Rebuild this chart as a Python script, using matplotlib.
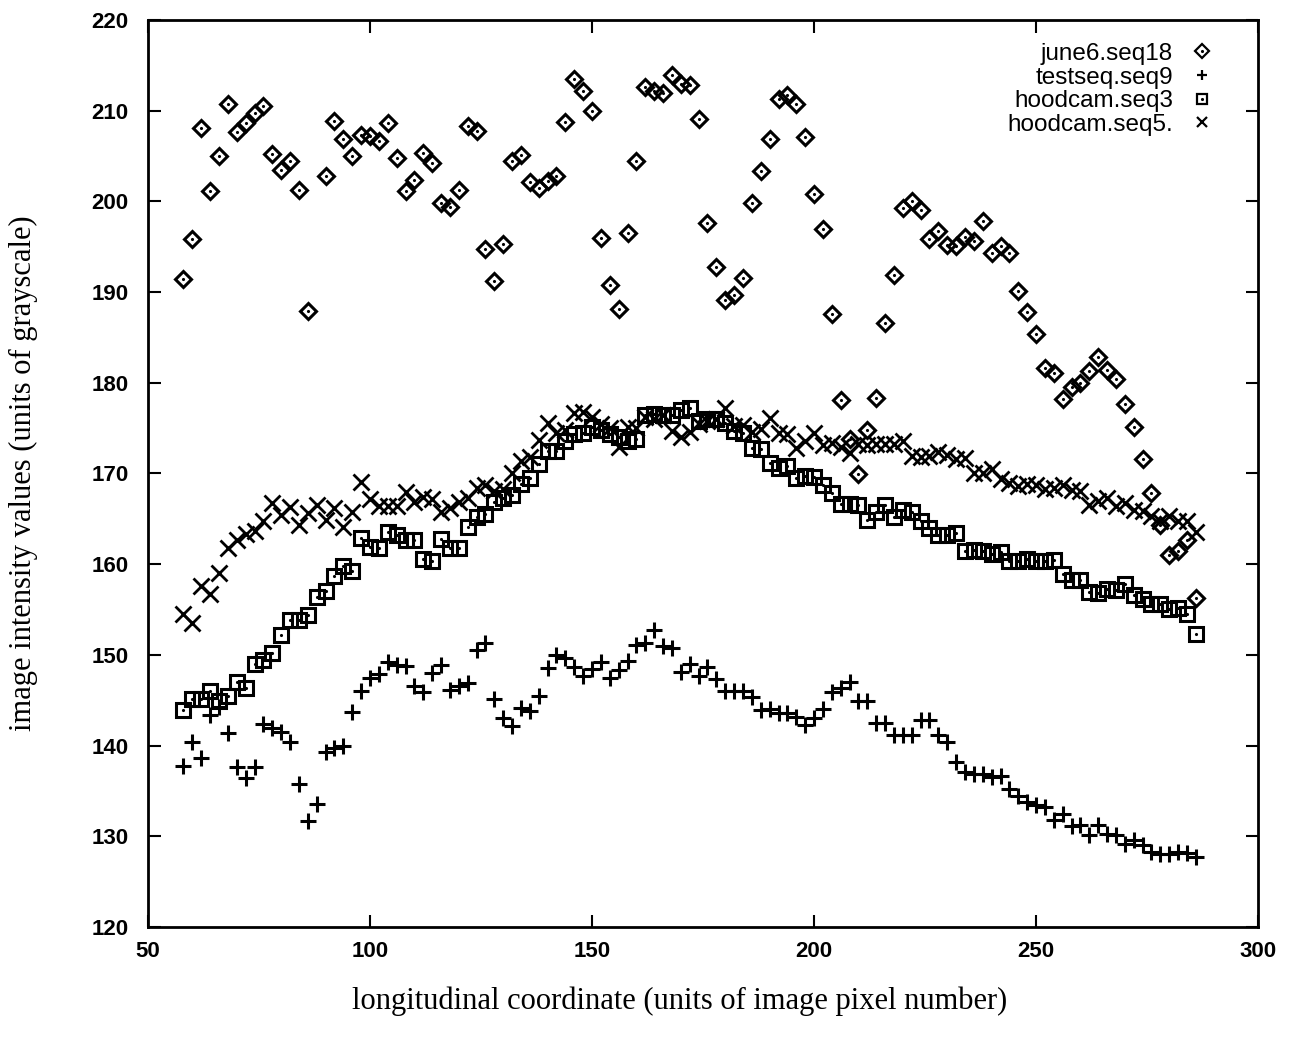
import numpy as np
import matplotlib
matplotlib.use('Agg')
import matplotlib.pyplot as plt

# longitudinal positions (image pixel number), every 2 px
x_pos = np.arange(58, 288, 2)

# june6.seq18 (no sample at 88)
june6 = [191.4, 195.9, 208.1, 201.1, 205.0, 210.75, 207.6, 208.6, 209.7, 210.5,
         205.2, 203.5, 204.5, 201.2, 187.9, np.nan, 202.8, 208.9, 206.9, 205.0,
         207.3, 207.2, 206.7, 208.6, 204.75, 201.1, 202.4, 205.3, 204.2, 199.8,
         199.4, 201.2, 208.3, 207.8, 194.8, 191.2, 195.3, 204.5, 205.1, 202.1,
         201.5, 202.3, 202.8, 208.7, 213.5, 212.2, 210.0, 196.0, 190.8, 188.1,
         196.5, 204.4, 212.6, 212.2, 212.0, 213.9, 212.9, 212.85, 209.1, 197.6,
         192.8, 189.1, 189.7, 191.5, 199.8, 203.3, 206.85, 211.3, 211.7, 210.75,
         207.1, 200.8, 196.9, 187.6, 178.1, 173.8, 169.9, 174.8, 178.3, 186.6,
         191.9, 199.3, 200.0, 199.1, 195.8, 196.7, 195.2, 195.1, 196.1, 195.6,
         197.8, 194.3, 195.1, 194.3, 190.1, 187.8, 185.4, 181.6, 181.1, 178.2,
         179.5, 180.0, 181.25, 182.8, 181.4, 180.4, 177.7, 175.1, 171.6, 167.8,
         164.3, 161.0, 161.4, 162.7, 156.3]

testseq9 = [137.8, 140.4, 138.6, 143.4, 144.3, 141.4, 137.6, 136.4, 137.6, 142.35,
            141.9, 141.5, 140.4, 135.8, 131.7, 133.6, 139.3, 139.7, 140.0, 143.7,
            146.0, 147.5, 147.9, 149.2, 148.9, 148.8, 146.6, 145.9, 148.0, 148.9,
            146.1, 146.6, 146.9, 150.5, 151.3, 145.1, 143.0, 142.2, 144.1, 143.8,
            145.45, 148.6, 150.0, 149.7, 148.7, 147.7, 148.5, 149.2, 147.4, 148.3,
            149.3, 151.05, 151.3, 152.7, 151.0, 150.75, 148.1, 149.0, 147.7, 148.7,
            147.3, 146.05, 146.05, 146.0, 145.4, 143.9, 144.05, 143.6, 143.6, 143.1,
            142.3, 143.0, 144.0, 145.9, 146.3, 147.0, 144.9, 144.9, 142.5, 142.5,
            141.2, 141.2, 141.2, 142.8, 142.8, 141.2, 140.4, 138.2, 137.1, 136.9,
            136.9, 136.5, 136.7, 135.2, 134.4, 133.8, 133.5, 133.2, 131.8, 132.5,
            131.1, 131.2, 130.1, 131.2, 130.3, 130.1, 129.1, 129.6, 129.0, 128.3,
            128.0, 128.0, 128.3, 128.2, 127.7]

hoodcam3 = [143.9, 145.1, 145.1, 146.0, 144.9, 145.5, 147.0, 146.3, 149.0, 149.4,
            150.2, 152.2, 153.8, 153.9, 154.4, 156.4, 157.1, 158.7, 159.8, 159.3,
            162.9, 161.9, 161.8, 163.6, 163.2, 162.7, 162.7, 160.6, 160.4, 162.8,
            161.8, 161.8, 164.1, 165.2, 165.5, 166.9, 167.3, 167.6, 168.8, 169.5,
            171.1, 172.5, 172.5, 173.6, 174.3, 174.5, 175.1, 174.8, 174.3, 174.0,
            173.6, 173.8, 176.5, 176.6, 176.5, 176.5, 177.05, 177.2, 175.8, 176.0,
            176.05, 175.6, 174.7, 174.5, 172.85, 172.7, 171.2, 170.6, 170.8, 169.5,
            169.7, 169.6, 168.7, 167.9, 166.6, 166.6, 166.5, 164.9, 165.7, 166.5,
            165.2, 166.0, 165.7, 164.8, 164.0, 163.2, 163.2, 163.4, 161.4, 161.6,
            161.4, 161.1, 161.3, 160.4, 160.4, 160.6, 160.3, 160.4, 160.5, 158.9,
            158.3, 158.3, 156.9, 156.8, 157.3, 157.2, 157.8, 156.65, 156.2, 155.6,
            155.6, 155.1, 155.2, 154.5, 152.3]

hoodcam5 = [154.5, 153.5, 157.6, 156.7, 159.0, 161.8, 162.65, 163.3, 163.65, 164.75,
            166.7, 165.4, 166.3, 164.3, 165.6, 166.5, 164.9, 166.15, 164.1, 165.7,
            169.1, 167.15, 166.4, 166.4, 166.4, 168.0, 166.85, 167.4, 167.15, 165.75,
            166.15, 166.85, 167.3, 168.4, 168.7, 168.1, 168.25, 170.1, 171.4, 171.8,
            173.7, 175.6, 174.5, 174.8, 176.7, 176.8, 176.2, 175.5, 175.0, 172.9,
            175.1, 175.0, 176.2, 176.0, 176.4, 174.7, 174.0, 174.6, 175.5, 175.8,
            176.0, 177.2, 175.2, 175.3, 174.6, 174.9, 176.1, 174.5, 174.4, 172.85,
            173.6, 174.5, 173.1, 173.4, 172.9, 172.3, 173.2, 173.1, 173.3, 173.2,
            173.3, 173.6, 171.9, 171.8, 171.9, 172.4, 172.0, 171.6, 171.75, 170.1,
            170.1, 170.5, 169.4, 169.0, 168.6, 168.8, 168.7, 168.25, 168.4, 168.7,
            168.2, 168.1, 166.5, 167.0, 167.3, 166.4, 166.8, 166.0, 165.9, 165.3,
            164.75, 165.3, 164.75, 164.8, 163.5]

fig = plt.figure(figsize=(12.89, 10.45), dpi=100)
ax = fig.add_axes([0.1148, 0.1129, 0.8612, 0.8680])

# diamonds and squares carry a small dot in the centre, as in gnuplot output
d1, = ax.plot(x_pos, june6, 'D', ms=8, mfc='none', mec='black', mew=2.2, ls='none')
d2, = ax.plot(x_pos, june6, '.', ms=2.5, color='black', ls='none')
p1, = ax.plot(x_pos, testseq9, '+', ms=11, mec='black', mew=2.2, ls='none')
s1, = ax.plot(x_pos, hoodcam3, 's', ms=10, mfc='none', mec='black', mew=2.2, ls='none')
s2, = ax.plot(x_pos, hoodcam3, '.', ms=2.5, color='black', ls='none')
x1, = ax.plot(x_pos, hoodcam5, 'x', ms=11, mec='black', mew=2.0, ls='none')

ax.set_xlim(50, 300)
ax.set_ylim(120, 220)
ax.set_xticks(np.arange(50, 301, 50))
ax.set_yticks(np.arange(120, 221, 10))
ax.tick_params(direction='in', length=9, width=1.5, top=True, right=True,
               labelsize=16, pad=14)
ax.tick_params(axis='x', pad=10)
for lab in ax.get_xticklabels() + ax.get_yticklabels():
    lab.set_fontfamily('Liberation Sans')
    lab.set_fontweight('bold')
for sp in ax.spines.values():
    sp.set_linewidth(2)

ax.set_xlabel('longitudinal coordinate (units of image pixel number)',
              fontfamily='Liberation Serif', fontsize=22)
ax.xaxis.set_label_coords(0.479, -0.066)
ax.set_ylabel('image intensity values (units of grayscale)',
              fontfamily='Liberation Serif', fontsize=22)
ax.yaxis.set_label_coords(-0.099, 0.5)

leg = ax.legend([(d1, d2), p1, (s1, s2), x1],
                ['june6.seq18', 'testseq.seq9', 'hoodcam.seq3', 'hoodcam.seq5.'],
                loc='upper right', bbox_to_anchor=(1.0, 1.023),
                frameon=False, markerfirst=False,
                handlelength=1.0, handletextpad=0.7, labelspacing=0.07,
                borderaxespad=1.6, borderpad=0.2,
                prop={'family': 'Liberation Sans', 'size': 17.5})
for t in leg.get_texts():
    t.set_ha('right')
for h in leg.legend_handles:
    h.set_markersize(7)
    h.set_markeredgewidth(1.6)

fig.savefig('out.png', dpi=100)
